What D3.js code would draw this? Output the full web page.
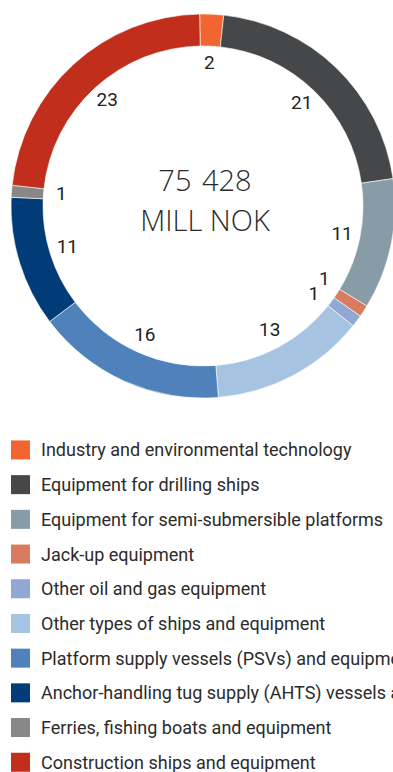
<!DOCTYPE html>
<html><head><meta charset="utf-8">
<script src="https://cdn.jsdelivr.net/npm/d3@7/dist/d3.min.js"></script>
<style>
html,body{margin:0;padding:0;background:#fff;overflow:hidden}
svg{display:block}
</style></head>
<body>
<svg id="chart" width="393" height="772"></svg>
<script>
const categories = [
  "Industry and environmental technology",
  "Equipment for drilling ships",
  "Equipment for semi-submersible platforms",
  "Jack-up equipment",
  "Other oil and gas equipment",
  "Other types of ships and equipment",
  "Platform supply vessels (PSVs) and equipment",
  "Anchor-handling tug supply (AHTS) vessels and equipment",
  "Ferries, fishing boats and equipment",
  "Construction ships and equipment"
];
const values = [2, 21, 11, 1, 1, 13, 16, 11, 1, 23];
const colors = ["#f26531", "#454749", "#889ca8", "#d97b5e", "#8fa8d4", "#a6c4e1", "#4f82ba", "#023c78", "#878787", "#c12e1b"];
const totalLabel = ["75 428", "MILL NOK"];

const svg = d3.select("#chart");
const cx = 203, cy = 206, rOuter = 192, rInner = 160, rLabel = 142;
const offset = -1 * Math.PI / 180;

const pie = d3.pie().sort(null).value(d => d).startAngle(offset).endAngle(2 * Math.PI + offset);
const arcs = pie(values);
const arc = d3.arc().innerRadius(rInner).outerRadius(rOuter);

const g = svg.append("g").attr("transform", `translate(${cx},${cy})`);
g.selectAll("path.slice").data(arcs).enter().append("path")
  .attr("class", "slice")
  .attr("d", arc)
  .attr("fill", (d, i) => colors[i])
  .attr("stroke", "#fff").attr("stroke-width", 0.6);

// label angles with simple separation
const minSep = 7.3 * Math.PI / 180;
const angles = arcs.map(d => (d.startAngle + d.endAngle) / 2);
for (let iter = 0; iter < 10; iter++) {
  for (let i = 0; i < angles.length - 1; i++) {
    const gap = angles[i + 1] - angles[i];
    if (gap < minSep) {
      const push = (minSep - gap) / 2;
      angles[i] -= push; angles[i + 1] += push;
    }
  }
}
g.selectAll("text.lbl").data(arcs).enter().append("text")
  .attr("class", "lbl")
  .attr("x", (d, i) => rLabel * Math.sin(angles[i]))
  .attr("y", (d, i) => -rLabel * Math.cos(angles[i]) - 1.5)
  .attr("text-anchor", "middle")
  .attr("dominant-baseline", "central")
  .attr("font-family", "Roboto, sans-serif")
  .attr("font-size", 19)
  .attr("fill", "#222")
  .text(d => d.data);

// center text
svg.append("text").attr("x", cx + 2).attr("y", cy - 15)
  .attr("text-anchor", "middle")
  .attr("font-family", "'Open Sans', sans-serif").attr("font-weight", 300)
  .attr("font-size", 29).attr("fill", "#2a2a2a").attr("word-spacing", 3).text(totalLabel[0]);
svg.append("text").attr("x", cx + 2).attr("y", cy + 25)
  .attr("text-anchor", "middle")
  .attr("font-family", "'Open Sans', sans-serif").attr("font-weight", 300)
  .attr("font-size", 29).attr("fill", "#2a2a2a").text(totalLabel[1]);

// legend
const legendY = d3.scaleBand().domain(d3.range(categories.length)).range([432.6, 779.6]);
const lg = svg.append("g");
const rows = lg.selectAll("g.row").data(categories).enter().append("g")
  .attr("class", "row")
  .attr("transform", (d, i) => `translate(0,${legendY(i) + legendY.bandwidth() / 2})`);
rows.append("rect").attr("x", 11).attr("y", -9.5).attr("width", 19).attr("height", 19)
  .attr("fill", (d, i) => colors[i]);
rows.append("text").attr("x", 41).attr("y", 0)
  .attr("dominant-baseline", "central")
  .attr("font-family", "Roboto, sans-serif").attr("font-size", 18)
  .attr("fill", "#2b2b2b").text(d => d);
</script>
</body></html>
